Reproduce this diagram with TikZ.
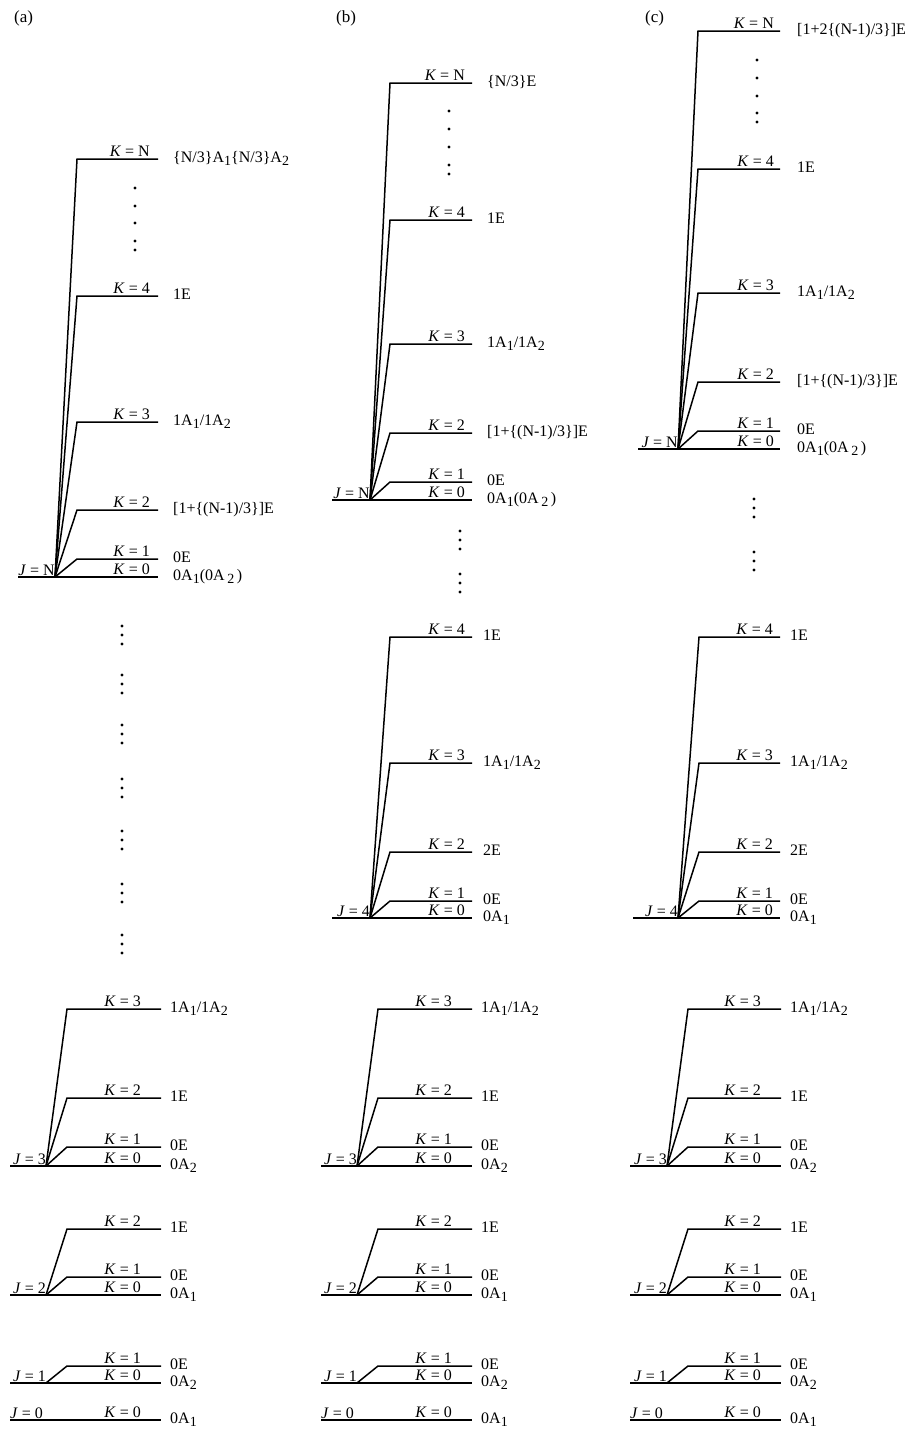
\documentclass[tikz,border=0pt]{standalone}
\usepackage{fontspec}
\setmainfont{Liberation Serif}
\usepackage{tikz}

% lowered index, as in A_1
\newcommand{\ix}[1]{\raisebox{-0.45ex}{\fontsize{14}{14}\selectfont #1}}
% J level: name, left x, pivot x, right x, y, J, K-label gap, state gap, K=0 state
\newcommand{\Jlev}[9]{%
  \def\kgap{#7}\def\sgap{#8}%
  \coordinate (#1l) at (#2,#5);
  \coordinate (#1p) at (#3,#5);
  \coordinate (#1r) at (#4,#5);
  \draw[lev] (#1l) -- (#1r);
  \node[jlab] (#1j) at (#1p) {\textit{J} = #6};
  \node[klab] (#1k0) at (#1r) {\textit{K} = 0};
  \node[slab] (#1t0) at (#1r) {#9};
}
% K level: block, K, start x, y, state
\newcommand{\Klev}[5]{%
  \coordinate (#1s#2) at (#3,#4);
  \coordinate (#1e#2) at (#1r |- #1s#2);
  \draw[lev] (#1p) -- (#1s#2) -- (#1e#2);
  \node[klab] (#1k#2) at (#1e#2) {\textit{K} = #2};
  \node[slab] (#1t#2) at (#1e#2) {#5};
}

\begin{document}
\begin{tikzpicture}[x=1pt,y=-1pt,
  lev/.style={line width=1.5pt},
  lab/.style={inner sep=0pt, font=\fontsize{16}{18}\selectfont},
  klab/.style={lab, anchor=base east, xshift=-\kgap pt, yshift=3pt},
  slab/.style={lab, anchor=base west, xshift=\sgap pt, yshift=-3pt},
  jlab/.style={lab, anchor=base east, yshift=2pt},
  panel/.style={inner sep=0pt, anchor=base west, font=\fontsize{17}{18}\selectfont},
  dot/.style={fill=black}]
  \useasboundingbox (0,0) rectangle (907,1430);

  \node[panel] (pa) at (14,22) {(a)};
  \node[panel] (pb) at (336,22) {(b)};
  \node[panel] (pc) at (645,22) {(c)};

  % (a)
  \Jlev{aN}{18}{55}{158}{577}{N}{8}{15}{0A\ix{1}(0A\,\ix{2}\,)}
  \Klev{aN}{1}{77}{559}{0E}
  \Klev{aN}{2}{77}{510}{[1+\{(N-1)/3\}]E}
  \Klev{aN}{3}{77}{422}{1A\ix{1}/1A\ix{2}}
  \Klev{aN}{4}{77}{296}{1E}
  \Klev{aN}{N}{77}{159}{\{N/3\}A\ix{1}\{N/3\}A\ix{2}}
  \foreach \y in {188,206,223,241,250}
    \fill[dot] (135,\y) circle (1.6pt);
  \foreach \g in {626,675,725,779,831,884,935}
    \foreach \d in {0,9,18}
      \fill[dot] (122,\g+\d) circle (1.6pt);

  \Jlev{a3}{10}{46}{161}{1166}{3}{20}{9}{0A\ix{2}}
  \Klev{a3}{1}{67}{1147}{0E}
  \Klev{a3}{2}{67}{1098}{1E}
  \Klev{a3}{3}{67}{1009}{1A\ix{1}/1A\ix{2}}
  \Jlev{a2}{10}{46}{161}{1295}{2}{20}{9}{0A\ix{1}}
  \Klev{a2}{1}{67}{1277}{0E}
  \Klev{a2}{2}{67}{1229}{1E}
  \Jlev{a1}{10}{46}{161}{1383}{1}{20}{9}{0A\ix{2}}
  \Klev{a1}{1}{67}{1366}{0E}
  \coordinate (a0l) at (10,1420);
  \coordinate (a0r) at (161,1420);
  \draw[lev] (a0l) -- (a0r);
  \node[lab, anchor=base west, yshift=2pt] (a0j) at (a0l) {\textit{J} = 0};
  \node[klab] (a0k0) at (a0r) {\textit{K} = 0};
  \node[slab] (a0t0) at (a0r) {0A\ix{1}};

  % (b)
  \Jlev{bN}{332}{370}{472}{500}{N}{7}{15}{0A\ix{1}(0A\,\ix{2}\,)}
  \Klev{bN}{1}{390}{482}{0E}
  \Klev{bN}{2}{390}{433}{[1+\{(N-1)/3\}]E}
  \Klev{bN}{3}{390}{344}{1A\ix{1}/1A\ix{2}}
  \Klev{bN}{4}{390}{220}{1E}
  \Klev{bN}{N}{390}{83}{\{N/3\}E}
  \foreach \y in {111,129,147,165,174}
    \fill[dot] (449,\y) circle (1.6pt);
  \foreach \g in {531,574}
    \foreach \d in {0,9,18}
      \fill[dot] (460,\g+\d) circle (1.6pt);

  \Jlev{b4}{332}{370}{472}{918}{4}{7}{11}{0A\ix{1}}
  \Klev{b4}{1}{390}{901}{0E}
  \Klev{b4}{2}{390}{852}{2E}
  \Klev{b4}{3}{390}{763}{1A\ix{1}/1A\ix{2}}
  \Klev{b4}{4}{390}{637}{1E}

  \Jlev{b3}{321}{357}{472}{1166}{3}{20}{9}{0A\ix{2}}
  \Klev{b3}{1}{378}{1147}{0E}
  \Klev{b3}{2}{378}{1098}{1E}
  \Klev{b3}{3}{378}{1009}{1A\ix{1}/1A\ix{2}}
  \Jlev{b2}{321}{357}{472}{1295}{2}{20}{9}{0A\ix{1}}
  \Klev{b2}{1}{378}{1277}{0E}
  \Klev{b2}{2}{378}{1229}{1E}
  \Jlev{b1}{321}{357}{472}{1383}{1}{20}{9}{0A\ix{2}}
  \Klev{b1}{1}{378}{1366}{0E}
  \coordinate (b0l) at (321,1420);
  \coordinate (b0r) at (472,1420);
  \draw[lev] (b0l) -- (b0r);
  \node[lab, anchor=base west, yshift=2pt] (b0j) at (b0l) {\textit{J} = 0};
  \node[klab] (b0k0) at (b0r) {\textit{K} = 0};
  \node[slab] (b0t0) at (b0r) {0A\ix{1}};

  % (c)
  \Jlev{cN}{638}{678}{780}{449}{N}{6}{17}{0A\ix{1}(0A\,\ix{2}\,)}
  \Klev{cN}{1}{698}{431}{0E}
  \Klev{cN}{2}{698}{382}{[1+\{(N-1)/3\}]E}
  \Klev{cN}{3}{698}{293}{1A\ix{1}/1A\ix{2}}
  \Klev{cN}{4}{698}{169}{1E}
  \Klev{cN}{N}{698}{31}{[1+2\{(N-1)/3\}]E}
  \foreach \y in {60,78,96,113,122}
    \fill[dot] (757,\y) circle (1.6pt);
  \foreach \g in {499,552}
    \foreach \d in {0,9,18}
      \fill[dot] (754,\g+\d) circle (1.6pt);

  \Jlev{c4}{633}{678}{780}{918}{4}{7}{10}{0A\ix{1}}
  \Klev{c4}{1}{699}{901}{0E}
  \Klev{c4}{2}{699}{852}{2E}
  \Klev{c4}{3}{699}{763}{1A\ix{1}/1A\ix{2}}
  \Klev{c4}{4}{699}{637}{1E}

  \Jlev{c3}{630}{667}{781}{1166}{3}{20}{9}{0A\ix{2}}
  \Klev{c3}{1}{688}{1147}{0E}
  \Klev{c3}{2}{688}{1098}{1E}
  \Klev{c3}{3}{688}{1009}{1A\ix{1}/1A\ix{2}}
  \Jlev{c2}{630}{667}{781}{1295}{2}{20}{9}{0A\ix{1}}
  \Klev{c2}{1}{688}{1277}{0E}
  \Klev{c2}{2}{688}{1229}{1E}
  \Jlev{c1}{630}{667}{781}{1383}{1}{20}{9}{0A\ix{2}}
  \Klev{c1}{1}{688}{1366}{0E}
  \coordinate (c0l) at (630,1420);
  \coordinate (c0r) at (781,1420);
  \draw[lev] (c0l) -- (c0r);
  \node[lab, anchor=base west, yshift=2pt] (c0j) at (c0l) {\textit{J} = 0};
  \node[klab] (c0k0) at (c0r) {\textit{K} = 0};
  \node[slab] (c0t0) at (c0r) {0A\ix{1}};
\end{tikzpicture}
\end{document}
